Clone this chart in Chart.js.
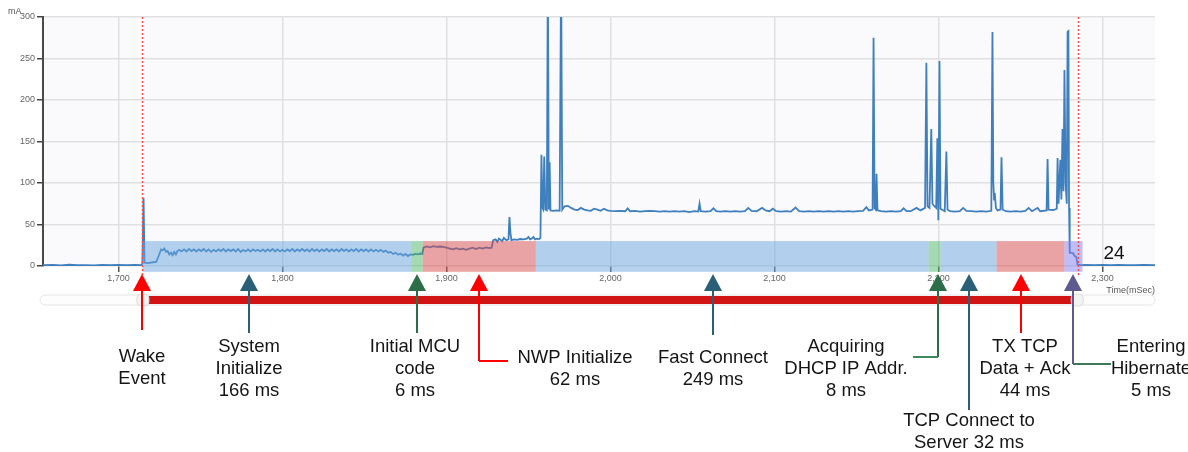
<!DOCTYPE html>
<html>
<head>
<meta charset="utf-8">
<script src="https://cdn.jsdelivr.net/npm/chart.js@4.4.1/dist/chart.umd.min.js"></script>
<style>
  body { margin: 0; background: #ffffff; }
  #wrap { width: 1188px; height: 452px; }
</style>
</head>
<body>
<div id="wrap"><canvas id="powerChart" width="1188" height="452"></canvas></div>
<script>
// current trace (time in ms, current in mA)
const traceTime = [
  1654, 1660, 1665, 1670, 1675, 1680, 1685, 1690, 1695, 1700, 1705, 1710, 1713.8,
  1714.6, 1715.3, 1715.9, 1718, 1721, 1723, 1724.5, 1726, 1727, 1728, 1729, 1730, 1731, 1732, 1733, 1734, 1735, 1736,
  1737, 1738.5, 1740, 1741.5, 1743, 1744.5, 1746, 1747.5, 1749, 1750.5, 1752, 1753.5, 1755, 1756.5, 1758, 1759.5,
  1761, 1762.5, 1764, 1765.5, 1767, 1768.5, 1770, 1771.5, 1773, 1774.5, 1776, 1777.5, 1779, 1780.5, 1782, 1783.5,
  1785, 1786.5, 1788, 1789.5, 1791, 1792.5, 1794, 1795.5, 1797, 1798.5, 1800, 1801.5, 1803, 1804.5, 1806, 1807.5,
  1809, 1810.5, 1812, 1813.5, 1815, 1816.5, 1818, 1819.5, 1821, 1822.5, 1824, 1825.5, 1827, 1828.5, 1830, 1831.5,
  1833, 1834.5, 1836, 1837.5, 1839, 1840.5, 1842, 1843.5, 1845, 1846.5, 1848, 1849.5, 1851, 1852.5, 1854, 1855.5,
  1857, 1858.5, 1860, 1861.5, 1863, 1864.5, 1866,
  1867.5, 1869, 1870.5, 1872, 1873.5, 1875, 1876.5, 1878, 1879.5, 1881, 1882.5, 1884, 1885.3,
  1886, 1888, 1890, 1892, 1894, 1896, 1898, 1900, 1902, 1904, 1906, 1908, 1910, 1912, 1914, 1916, 1918, 1920,
  1922, 1924, 1926, 1927.5, 1928.5, 1930, 1931, 1932, 1934, 1935, 1936.5, 1937.8, 1938.4, 1939, 1939.6, 1941,
  1943, 1945, 1947, 1949, 1950, 1951, 1952, 1953, 1954, 1955, 1956.5, 1957.3,
  1957.9, 1958.5, 1959, 1959.6, 1960.3, 1961.2, 1961.8, 1962.4, 1962.9, 1963.4, 1965, 1967, 1969, 1969.9, 1970.6,
  1972, 1974, 1976, 1978, 1980, 1982, 1984, 1986, 1988, 1990, 1992, 1994, 1996, 1998, 2000, 2003, 2006, 2009,
  2010.5, 2012, 2015, 2018, 2021, 2024, 2027, 2030, 2033, 2036, 2039, 2042, 2045, 2048, 2051, 2053.5, 2054.3,
  2055, 2058, 2061, 2062.8, 2064.5, 2067, 2070, 2073, 2076, 2079, 2082, 2084, 2086, 2089, 2092.5, 2094.5, 2097,
  2099, 2101, 2104, 2107, 2110, 2112.8, 2115, 2118, 2121, 2124, 2127, 2130, 2133, 2136, 2139, 2142, 2145, 2148,
  2151, 2154, 2156, 2157.5, 2159.8, 2160.4, 2161, 2161.7, 2162.2, 2162.8, 2165, 2168, 2171, 2174, 2177, 2178.7,
  2180.5, 2183, 2186.6, 2189, 2191.8, 2192.6, 2193.3, 2194.5, 2195.6, 2196.3, 2197.5, 2198.6, 2199.3, 2199.9,
  2200.6, 2201.2, 2202, 2203.8, 2204.8, 2205.5, 2207, 2210, 2213, 2215, 2217, 2220, 2223, 2226, 2229, 2232.2,
  2232.9, 2233.4, 2233.9, 2234.3, 2235, 2236, 2237.8, 2238.4, 2239.1, 2241, 2244, 2247, 2250, 2253, 2254.9, 2257,
  2260.4, 2262, 2265.9, 2266.5, 2267.1, 2270, 2272.1, 2272.6, 2273.2, 2274.3, 2274.9, 2275.6, 2276.2, 2276.8,
  2277.5, 2278.2, 2278.7, 2279.2, 2279.6, 2280, 2282, 2283, 2284, 2284.8, 2287, 2290, 2295, 2300, 2305, 2310,
  2315, 2320, 2325, 2332
];
const traceMa = [
  1.0, 1.2, 0.8, 1.5, 0.9, 1.1, 0.8, 1.3, 1.0, 1.4, 0.9, 1.2, 1.0,
  3, 82, 4, 3.5, 4.5, 5, 12, 20, 19, 21, 17, 18, 14, 16, 13, 17, 14, 18,
  19.5, 17.5, 20, 17.5, 20.5, 18, 20, 17.5, 20, 18, 20.5, 17.5, 20, 17, 19.5, 17.5,
  20, 18, 20.5, 17.5, 20, 18, 20, 17.5, 20.5, 17, 19.5, 17.5, 20, 17.5, 20, 18,
  19.5, 17.5, 20, 17.5, 20, 18, 20.5, 17.5, 20, 17.5, 19.5, 17.5, 20, 18, 20.5, 17.5,
  20, 18, 20.5, 18, 20, 17.5, 20.5, 18, 20, 17.5, 20, 18, 20.5, 17.5, 20, 18,
  20, 17.5, 20.5, 18, 20, 17.5, 20, 18, 20.5, 17.5, 20, 18, 20, 17.5, 20, 17.5,
  19.5, 17.5, 19.5, 17, 18.5, 16, 17,
  14.5, 16, 13.5, 15, 12.5, 14.5, 12, 14, 13.5, 14.5, 14, 15, 14.5,
  22, 23.5, 22.5, 24, 23, 23.5, 23, 22, 21, 20, 21.5, 20, 21, 19.5, 21, 22, 20.5, 22,
  21, 22.5, 21.5, 22, 31, 32, 29, 33, 30, 34, 31, 32, 59, 40, 31, 32,
  31.5, 32.5, 32, 33, 35, 32, 33, 35, 32, 33, 32.5, 34,
  134, 70, 68, 132, 68, 67, 360, 68, 125, 67, 66.5, 67, 66.5, 360, 68,
  72, 72.5, 70, 68, 67.5, 70, 68, 67, 66.5, 69, 68, 66.5, 69, 67, 66.5, 66, 66.5, 66,
  69.5, 66, 66.5, 65.5, 66, 66.5, 66, 65.5, 66, 65.5, 66, 65.5, 66, 65, 66, 65.5, 75,
  66, 65.5, 66, 69.5, 66, 65.5, 66, 65.5, 66, 65.5, 66, 70, 66.5, 66, 70, 67, 66,
  69, 66, 65.5, 66, 65.5, 70.5, 66, 65.5, 66, 65.5, 66, 65.5, 66, 65.5, 66, 65.5, 66, 65.5,
  66, 66.5, 71, 67, 68, 275, 70, 68, 111, 67, 66, 65.5, 66, 65.5, 66, 69.5,
  66, 66, 70, 67, 70, 245, 72, 70, 165, 75, 72, 70, 154, 55,
  247, 69, 68, 66, 138, 68, 66, 65.5, 66, 70, 66.5, 66, 65.5, 66, 65.5, 66.5,
  282, 101, 80, 88, 70, 67, 68, 131, 68, 66, 65.5, 66, 65.5, 66.5, 70, 66,
  70, 66, 67, 129, 68, 67.5, 69, 130, 75, 128, 80, 165, 90, 236,
  100, 75, 282, 283, 70, 16, 15.5, 12, 11, 1.5, 1.0, 1.2, 0.9, 1.3, 1.0, 1.2,
  0.9, 1.1, 1.3, 1.0
];

// axis ticks
const xTicks = [1700, 1800, 1900, 2000, 2100, 2200, 2300];
const yTicks = [0, 50, 100, 150, 200, 250, 300];

// phases shaded under the trace (ms)
const phaseStart = [1714.6, 1878.5, 1885.5, 1954.5, 2194, 2201.2, 2235.4, 2276.8];
const phaseEnd   = [1878.5, 1885.5, 1954.5, 2194, 2201.2, 2235.4, 2276.8, 2287.8];
const phaseKind  = ['blue', 'green', 'red', 'blue', 'green', 'blue', 'red', 'purple'];
const bandLow = -7, bandHigh = 30;

// capture window (red dotted lines / slider)
const windowStart = 1714.3, windowEnd = 2285.2;
const cursorTime = 2307, cursorMa = 14.5, cursorText = '24';

// arrow markers below the plot
const markerTime = [1714.3, 1779.3, 1882.3, 1920.1, 2062.8, 2199.4, 2218.3, 2250.6, 2281.7];
const markerText = [
  ['Wake', 'Event'],
  ['System', 'Initialize', '166 ms'],
  ['Initial MCU', 'code', '6 ms'],
  ['NWP Initialize', '62 ms'],
  ['Fast Connect', '249 ms'],
  ['Acquiring', 'DHCP IP Addr.', '8 ms'],
  ['TCP Connect to', 'Server 32 ms'],
  ['TX TCP', 'Data + Ack', '44 ms'],
  ['Entering', 'Hibernate', '5 ms']
];

const bandColors = {
  blue: 'rgba(106,166,222,0.5)',
  green: 'rgba(76,186,104,0.5)',
  red: 'rgba(216,76,76,0.5)',
  purple: 'rgba(134,128,240,0.5)'
};

// layout of each arrow: colour, stem end, elbow, label offset / first line
const markerStyle = [
  { color: '#ff0000', stemTo: 330, elbow: 0, dx: 0, y0: 357 },
  { color: '#2a5f78', stemTo: 333, elbow: 0, dx: 0, y0: 347 },
  { color: '#2c6e48', stemTo: 333, elbow: 0, dx: -2, y0: 347 },
  { color: '#ff0000', stemTo: 361, elbow: 29, dx: 96, y0: 358 },
  { color: '#2a5f78', stemTo: 335, elbow: 0, dx: 0, y0: 358 },
  { color: '#2c6e48', stemTo: 357, elbow: -25, dx: -92, y0: 347, elbowColor: '#3c8a5c' },
  { color: '#2a5f78', stemTo: 410, elbow: 0, dx: 0, y0: 421 },
  { color: '#ff0000', stemTo: 333, elbow: 0, dx: 4, y0: 347 },
  { color: '#5c5a8e', stemTo: 364, elbow: 38, dx: 78, y0: 347, elbowColor: '#3d7a5a' }
];

const traceData = traceTime.map((t, i) => ({ x: t, y: traceMa[i] }));

function roundRect(ctx, x, y, w, h, r) {
  ctx.beginPath();
  ctx.moveTo(x + r, y);
  ctx.lineTo(x + w - r, y);
  ctx.arcTo(x + w, y, x + w, y + r, r);
  ctx.lineTo(x + w, y + h - r);
  ctx.arcTo(x + w, y + h, x + w - r, y + h, r);
  ctx.lineTo(x + r, y + h);
  ctx.arcTo(x, y + h, x, y + h - r, r);
  ctx.lineTo(x, y + r);
  ctx.arcTo(x, y, x + r, y, r);
  ctx.closePath();
}

const plotBackground = {
  id: 'plotBackground',
  beforeDraw(chart) {
    const { ctx, chartArea: a } = chart;
    ctx.save();
    ctx.fillStyle = '#fafafd';
    ctx.fillRect(a.left, a.top, a.right - a.left, a.bottom - a.top);
    ctx.restore();
  }
};

const phaseBands = {
  id: 'phaseBands',
  afterDatasetsDraw(chart) {
    const { ctx, chartArea: a, scales: { x, y } } = chart;
    ctx.save();
    // shaded phases
    const top = y.getPixelForValue(bandHigh), bot = y.getPixelForValue(bandLow);
    phaseStart.forEach((s, i) => {
      const x1 = x.getPixelForValue(s), x2 = x.getPixelForValue(phaseEnd[i]);
      ctx.fillStyle = bandColors[phaseKind[i]];
      ctx.fillRect(x1, top, x2 - x1, bot - top);
    });
    // window edges
    ctx.strokeStyle = '#ff4d4d';
    ctx.lineWidth = 1.5;
    ctx.setLineDash([2, 2]);
    [windowStart, windowEnd].forEach(t => {
      const px = Math.round(x.getPixelForValue(t)) + 0.5;
      ctx.beginPath();
      ctx.moveTo(px, a.top);
      ctx.lineTo(px, a.bottom + 9);
      ctx.stroke();
    });
    ctx.setLineDash([]);
    // cursor read-out
    ctx.fillStyle = '#111';
    ctx.font = '19px "Liberation Sans", Arial, sans-serif';
    ctx.textAlign = 'center';
    ctx.textBaseline = 'middle';
    ctx.fillText(cursorText, x.getPixelForValue(cursorTime), y.getPixelForValue(cursorMa));
    ctx.restore();
  }
};

const annotations = {
  id: 'annotations',
  afterDraw(chart) {
    const { ctx, chartArea: a, scales: { x } } = chart;
    ctx.save();
    // axis captions
    ctx.fillStyle = '#555';
    ctx.font = '9px "Liberation Sans", Arial, sans-serif';
    ctx.textBaseline = 'middle';
    ctx.textAlign = 'left';
    ctx.fillText('mA', 8, 12);
    ctx.textAlign = 'right';
    ctx.fillText('Time(mSec)', a.right, 291);

    // range slider
    const sy = 300;
    roundRect(ctx, a.left - 3, sy - 5, a.right - a.left + 3, 10, 5);
    ctx.fillStyle = '#fdfdfd';
    ctx.fill();
    ctx.strokeStyle = '#e6e6e6';
    ctx.lineWidth = 1;
    ctx.stroke();
    const s1 = x.getPixelForValue(windowStart), s2 = x.getPixelForValue(windowEnd);
    ctx.fillStyle = '#d11414';
    ctx.fillRect(s1 + 5, sy - 4, s2 - s1 - 10, 8);
    [s1 + 1, s2 - 1].forEach(px => {
      roundRect(ctx, px - 6, sy - 6, 12, 12, 4);
      ctx.fillStyle = '#f3f3f3';
      ctx.fill();
      ctx.strokeStyle = '#dddddd';
      ctx.stroke();
    });

    // arrows + labels
    ctx.font = '18.5px "Liberation Sans", Arial, sans-serif';
    ctx.textAlign = 'center';
    ctx.textBaseline = 'middle';
    markerTime.forEach((t, i) => {
      const st = markerStyle[i];
      const px = Math.round(x.getPixelForValue(t));
      const tip = 274, base = 291;
      ctx.strokeStyle = st.color;
      ctx.lineWidth = 2;
      ctx.beginPath();
      ctx.moveTo(px, base - 1);
      ctx.lineTo(px, st.stemTo);
      ctx.stroke();
      if (st.elbow) {
        ctx.strokeStyle = st.elbowColor || st.color;
        ctx.beginPath();
        ctx.moveTo(px, st.stemTo);
        ctx.lineTo(px + st.elbow, st.stemTo);
        ctx.stroke();
      }
      ctx.fillStyle = st.color;
      ctx.beginPath();
      ctx.moveTo(px, tip);
      ctx.lineTo(px + 9, base);
      ctx.lineTo(px - 9, base);
      ctx.closePath();
      ctx.fill();
      ctx.fillStyle = '#151515';
      markerText[i].forEach((line, k) => {
        ctx.fillText(line, px + st.dx, st.y0 + k * 22);
      });
    });
    ctx.restore();
  }
};

new Chart(document.getElementById('powerChart'), {
  type: 'line',
  data: {
    datasets: [{
      label: 'Current',
      data: traceData,
      borderColor: '#3f7fbd',
      borderWidth: 1.8,
      pointRadius: 0,
      tension: 0,
      fill: false
    }]
  },
  plugins: [plotBackground, phaseBands, annotations],
  options: {
    responsive: false,
    animation: false,
    events: [],
    layout: { padding: { top: 17, right: 33, bottom: 166, left: 0 } },
    plugins: {
      legend: { display: false },
      tooltip: { enabled: false },
      title: { display: false }
    },
    scales: {
      x: {
        type: 'linear',
        min: 1654,
        max: 2332,
        afterBuildTicks: scale => { scale.ticks = xTicks.map(v => ({ value: v })); },
        afterFit: scale => { scale.height = 20; },
        border: { display: false },
        grid: { color: '#e0e0e0', lineWidth: 1.5, tickColor: '#555', tickLength: 6 },
        ticks: {
          color: '#666',
          font: { size: 9, family: '"Liberation Sans", Arial, sans-serif' },
          padding: 1,
          maxRotation: 0,
          callback: v => v.toLocaleString('en-US')
        }
      },
      y: {
        min: 0,
        max: 300,
        afterBuildTicks: scale => { scale.ticks = yTicks.map(v => ({ value: v })); },
        afterFit: scale => { scale.width = 43; },
        border: { display: true, color: '#4a4a4a', width: 2 },
        grid: { color: '#e0e0e0', lineWidth: 1.5, tickColor: '#444', tickLength: 6 },
        ticks: {
          color: '#666',
          font: { size: 9, family: '"Liberation Sans", Arial, sans-serif' },
          padding: 2
        }
      }
    }
  }
});
</script>
</body>
</html>
